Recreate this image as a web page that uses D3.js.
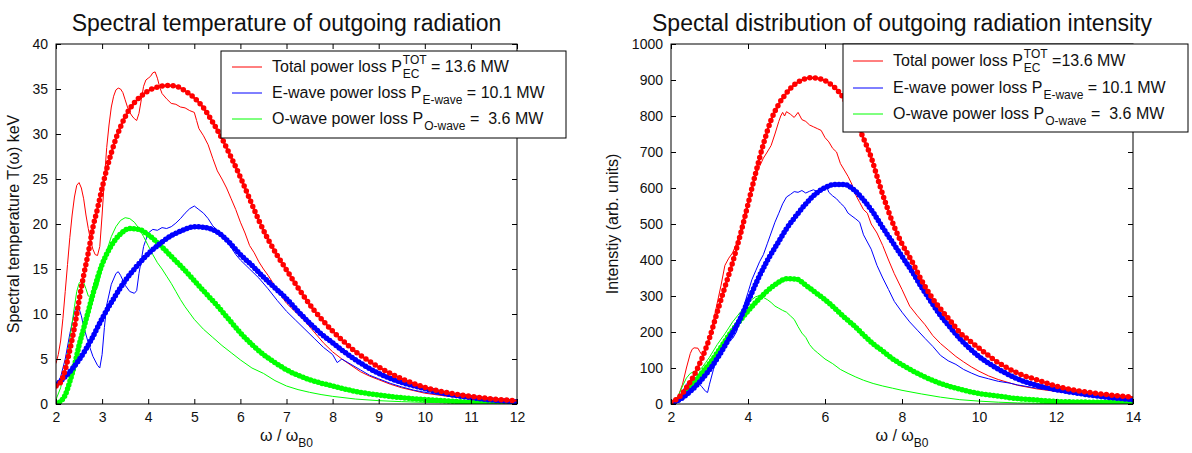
<!DOCTYPE html>
<html>
<head>
<meta charset="utf-8">
<script src="https://cdn.jsdelivr.net/npm/d3@7"></script>
<style>
  body { margin: 0; background: #fff; }
  svg { display: block; font-family: "Liberation Sans", Arial, sans-serif; }
</style>
</head>
<body>
<svg id="chart" width="1192" height="453"></svg>
<script>
// ---- data: [omega/omegaB0, value] ----

// left panel: spectral temperature (keV)
const leftTotalRaw = [[2.0,4.5],[2.05,5.5],[2.1,7.0],[2.15,9.5],[2.2,12.5],[2.25,15.5],[2.3,18.5],[2.35,21.0],[2.4,23.0],[2.45,24.3],[2.5,24.6],[2.55,24.0],[2.6,22.8],[2.65,21.0],[2.7,19.5],[2.75,18.2],[2.8,17.2],[2.85,16.6],[2.9,16.5],[2.95,17.5],[3.0,21.0],[3.05,25.0],[3.1,28.5],[3.15,31.0],[3.2,33.0],[3.25,34.2],[3.3,34.9],[3.35,35.1],[3.4,35.0],[3.45,34.6],[3.5,33.8],[3.55,33.0],[3.6,32.4],[3.65,32.0],[3.7,31.7],[3.75,31.5],[3.8,32.3],[3.85,33.8],[3.9,35.3],[3.95,36.0],[4.0,36.2],[4.05,36.4],[4.1,36.8],[4.15,36.9],[4.2,36.2],[4.25,35.2],[4.3,34.5],[4.4,33.9],[4.5,33.4],[4.6,33.3],[4.7,33.0],[4.8,32.9],[4.9,32.6],[5.0,32.4],[5.05,31.5],[5.1,30.6],[5.2,29.8],[5.3,28.8],[5.4,27.3],[5.5,25.9],[5.6,25.0],[5.7,24.0],[5.8,22.8],[5.9,21.6],[6.0,20.2],[6.1,19.0],[6.2,17.6],[6.3,16.8],[6.4,15.8],[6.5,15.0],[6.6,14.3],[6.7,13.5],[6.8,12.6],[6.9,11.9],[7.0,11.2],[7.2,10.2],[7.4,9.2],[7.6,8.0],[7.8,6.8],[8.0,5.8],[8.2,5.0],[8.4,4.3],[8.6,3.6],[8.8,3.1],[9.0,2.7],[9.25,2.2],[9.5,1.8],[9.75,1.5],[10.0,1.2],[10.5,0.85],[11.0,0.6],[11.5,0.42],[12.0,0.3]];
const leftERaw = [[2.0,2.0],[2.1,3.0],[2.2,5.0],[2.3,7.8],[2.4,10.2],[2.45,10.9],[2.5,10.6],[2.55,9.8],[2.6,8.6],[2.7,6.8],[2.8,5.3],[2.9,4.3],[2.95,4.0],[3.0,5.5],[3.05,8.5],[3.1,11.0],[3.2,13.3],[3.3,14.5],[3.35,14.7],[3.4,14.3],[3.5,13.2],[3.6,12.5],[3.7,12.3],[3.75,12.6],[3.8,14.5],[3.9,17.5],[4.0,19.0],[4.1,19.4],[4.2,19.3],[4.3,19.6],[4.4,19.5],[4.5,19.7],[4.6,20.1],[4.7,20.6],[4.8,21.2],[4.9,21.7],[5.0,22.0],[5.1,21.6],[5.2,21.2],[5.3,20.6],[5.4,19.8],[5.5,19.3],[5.6,18.7],[5.7,18.1],[5.8,17.4],[5.9,16.6],[6.0,16.0],[6.2,15.0],[6.4,14.0],[6.6,12.8],[6.8,11.5],[7.0,10.3],[7.2,9.3],[7.4,8.3],[7.6,7.3],[7.8,6.3],[8.0,5.5],[8.1,4.6],[8.2,5.0],[8.4,4.4],[8.6,3.8],[8.8,3.2],[9.0,2.8],[9.25,2.3],[9.5,1.9],[9.75,1.55],[10.0,1.3],[10.5,0.9],[11.0,0.6],[11.5,0.38],[12.0,0.22]];
const leftORaw = [[2.0,0.5],[2.1,1.8],[2.2,4.0],[2.3,7.2],[2.4,10.8],[2.45,12.5],[2.5,13.4],[2.55,13.7],[2.6,13.5],[2.65,12.8],[2.7,12.0],[2.75,11.8],[2.8,12.0],[2.9,13.0],[3.0,15.0],[3.1,17.0],[3.2,18.6],[3.3,19.7],[3.4,20.4],[3.5,20.7],[3.6,20.6],[3.7,20.2],[3.8,19.5],[3.9,18.6],[4.0,17.6],[4.1,16.6],[4.2,15.7],[4.3,15.0],[4.4,14.2],[4.5,13.4],[4.6,12.5],[4.7,11.6],[4.8,10.8],[4.9,10.1],[5.0,9.4],[5.2,8.3],[5.4,7.4],[5.6,6.5],[5.8,5.7],[6.0,4.9],[6.25,4.0],[6.5,3.4],[6.75,2.6],[7.0,2.0],[7.25,1.6],[7.5,1.3],[7.75,1.05],[8.0,0.85],[8.5,0.55],[9.0,0.37],[9.5,0.26],[10.0,0.18],[11.0,0.08],[12.0,0.04]];
const leftTotalFit = [[2.0,2.0],[2.1,2.4],[2.2,3.8],[2.3,6.0],[2.4,8.5],[2.5,11.5],[2.6,14.3],[2.7,16.8],[2.8,19.6],[2.9,21.7],[3.0,24.0],[3.1,26.1],[3.2,27.9],[3.3,29.5],[3.4,30.8],[3.5,31.9],[3.6,32.8],[3.8,34.0],[4.0,34.8],[4.2,35.2],[4.4,35.4],[4.6,35.3],[4.8,34.8],[5.0,34.0],[5.2,32.9],[5.4,31.3],[5.6,29.5],[5.8,27.4],[6.0,25.2],[6.2,22.8],[6.4,20.4],[6.6,18.3],[6.8,16.5],[7.0,14.9],[7.2,13.3],[7.4,11.8],[7.6,10.4],[7.8,9.2],[8.0,8.1],[8.25,6.9],[8.5,5.8],[8.75,4.9],[9.0,4.1],[9.25,3.4],[9.5,2.8],[9.75,2.3],[10.0,1.85],[10.5,1.25],[11.0,0.85],[11.5,0.55],[12.0,0.37]];
const leftEFit = [[2.0,2.1],[2.25,3.3],[2.5,4.9],[2.75,7.0],[3.0,9.5],[3.25,11.7],[3.5,13.7],[3.75,15.3],[4.0,16.7],[4.25,17.8],[4.5,18.7],[4.75,19.3],[5.0,19.7],[5.25,19.6],[5.5,19.1],[5.75,18.0],[6.0,16.6],[6.25,15.4],[6.5,14.1],[6.75,12.9],[7.0,11.7],[7.25,10.3],[7.5,9.0],[7.75,7.8],[8.0,6.8],[8.25,5.8],[8.5,4.9],[8.75,4.1],[9.0,3.4],[9.5,2.4],[10.0,1.7],[10.5,1.1],[11.0,0.7],[11.5,0.42],[12.0,0.25]];
const leftOFit = [[2.0,0.0],[2.1,0.3],[2.2,1.0],[2.3,2.5],[2.4,4.3],[2.5,6.5],[2.6,8.4],[2.7,10.3],[2.8,12.2],[2.9,14.0],[3.0,15.5],[3.2,17.6],[3.4,18.9],[3.6,19.5],[3.8,19.4],[4.0,18.8],[4.25,17.7],[4.5,16.4],[4.75,15.1],[5.0,13.7],[5.25,12.3],[5.5,10.9],[5.75,9.4],[6.0,7.9],[6.25,6.6],[6.5,5.5],[6.75,4.6],[7.0,3.8],[7.5,2.7],[8.0,2.0],[8.5,1.4],[9.0,1.0],[9.5,0.7],[10.0,0.5],[11.0,0.2],[12.0,0.07]];

// right panel: intensity (arb. units)
const rightTotalRaw = [[2.0,7],[2.1,12],[2.2,25],[2.3,55],[2.4,100],[2.5,140],[2.55,152],[2.6,156],[2.7,155],[2.75,145],[2.8,137],[2.85,140],[2.9,150],[3.0,185],[3.1,230],[3.2,280],[3.3,330],[3.4,385],[3.5,405],[3.6,420],[3.7,445],[3.8,480],[3.9,525],[4.0,560],[4.1,598],[4.2,635],[4.3,660],[4.4,683],[4.5,700],[4.6,718],[4.7,750],[4.8,785],[4.85,800],[4.9,810],[4.95,800],[5.0,812],[5.1,805],[5.2,796],[5.3,810],[5.4,790],[5.5,785],[5.6,775],[5.7,770],[5.8,765],[5.9,760],[6.0,740],[6.1,728],[6.2,710],[6.3,700],[6.4,668],[6.5,650],[6.6,632],[6.7,610],[6.8,580],[6.9,560],[7.0,540],[7.1,530],[7.2,500],[7.35,475],[7.5,440],[7.65,400],[7.8,362],[8.0,318],[8.2,272],[8.4,245],[8.6,220],[8.8,190],[9.0,168],[9.2,150],[9.4,132],[9.6,117],[9.8,103],[10.0,91],[10.25,78],[10.5,68],[11.0,52],[11.5,42],[12.0,35],[12.5,28],[13.0,23],[13.5,19],[14.0,16]];
const rightERaw = [[2.0,3],[2.1,8],[2.2,18],[2.3,35],[2.4,55],[2.5,66],[2.6,68],[2.7,60],[2.8,48],[2.9,35],[2.95,32],[3.0,55],[3.1,95],[3.2,135],[3.3,165],[3.4,172],[3.5,175],[3.6,182],[3.7,200],[3.8,235],[3.9,275],[4.0,310],[4.1,345],[4.2,370],[4.3,395],[4.4,415],[4.5,445],[4.6,475],[4.7,505],[4.8,530],[4.9,556],[5.0,575],[5.1,582],[5.2,590],[5.3,588],[5.4,593],[5.5,586],[5.6,591],[5.7,595],[5.8,590],[5.9,594],[6.0,596],[6.05,602],[6.1,588],[6.2,578],[6.3,570],[6.4,558],[6.5,548],[6.6,530],[6.7,522],[6.8,514],[6.9,505],[7.0,470],[7.1,450],[7.2,430],[7.35,385],[7.5,350],[7.65,318],[7.8,285],[8.0,255],[8.2,228],[8.4,205],[8.6,182],[8.8,160],[9.0,135],[9.2,120],[9.4,110],[9.6,96],[9.8,86],[10.0,77],[10.25,70],[10.5,63],[10.8,58],[11.0,53],[11.5,44],[12.0,36],[12.5,28],[13.0,21],[13.5,16],[14.0,12]];
const rightORaw = [[2.0,3],[2.1,10],[2.2,25],[2.3,50],[2.4,72],[2.5,85],[2.6,90],[2.7,92],[2.8,100],[2.9,115],[3.0,130],[3.2,165],[3.4,195],[3.6,228],[3.8,255],[4.0,280],[4.1,290],[4.2,298],[4.3,301],[4.4,296],[4.5,290],[4.6,282],[4.7,272],[4.8,266],[4.9,260],[5.0,255],[5.1,245],[5.2,235],[5.3,215],[5.4,197],[5.5,185],[5.6,165],[5.7,152],[5.8,143],[6.0,125],[6.2,112],[6.4,96],[6.6,85],[6.8,75],[7.0,66],[7.25,57],[7.5,50],[7.75,44],[8.0,38],[8.5,28],[9.0,19],[9.5,12],[10.0,8],[10.5,5],[11.0,3],[12.0,1],[13.0,0.5],[14.0,0.3]];
const rightTotalFit = [[2.0,5],[2.2,18],[2.4,45],[2.6,80],[2.8,126],[3.0,183],[3.2,255],[3.4,325],[3.6,393],[3.8,470],[4.0,555],[4.2,642],[4.4,722],[4.6,789],[4.8,833],[5.0,864],[5.2,887],[5.4,900],[5.6,906],[5.8,905],[6.0,898],[6.2,884],[6.4,862],[6.6,830],[6.8,785],[7.0,738],[7.2,685],[7.4,615],[7.6,550],[7.8,492],[8.0,445],[8.25,398],[8.5,345],[8.75,300],[9.0,264],[9.25,232],[9.5,199],[9.75,176],[10.0,155],[10.5,115],[11.0,86],[11.5,67],[12.0,50],[12.5,38],[13.0,30],[13.5,24],[14.0,19]];
const rightEFit = [[2.0,3],[2.25,14],[2.5,35],[2.75,62],[3.0,95],[3.25,135],[3.5,180],[3.75,227],[4.0,285],[4.25,345],[4.5,398],[4.75,443],[5.0,487],[5.25,523],[5.5,556],[5.75,583],[6.0,601],[6.25,610],[6.5,610],[6.75,595],[7.0,567],[7.25,532],[7.5,490],[7.75,450],[8.0,410],[8.25,370],[8.5,326],[8.75,285],[9.0,246],[9.25,213],[9.5,182],[9.75,155],[10.0,132],[10.5,97],[11.0,70],[11.5,52],[12.0,40],[12.5,31],[13.0,23],[13.5,17],[14.0,12]];
const rightOFit = [[2.0,0],[2.25,18],[2.5,46],[2.75,80],[3.0,112],[3.25,150],[3.5,190],[3.75,226],[4.0,258],[4.25,288],[4.5,314],[4.75,335],[5.0,348],[5.25,347],[5.5,330],[5.75,310],[6.0,290],[6.25,266],[6.5,241],[6.75,218],[7.0,192],[7.25,167],[7.5,147],[7.75,126],[8.0,109],[8.5,80],[9.0,57],[9.5,41],[10.0,29],[10.5,22],[11.0,15],[11.5,11],[12.0,7],[13.0,5],[14.0,4]];

// ticks
const leftXTicks = [2, 3, 4, 5, 6, 7, 8, 9, 10, 11, 12];
const leftYTicks = [0, 5, 10, 15, 20, 25, 30, 35, 40];
const rightXTicks = [2, 4, 6, 8, 10, 12, 14];
const rightYTicks = [0, 100, 200, 300, 400, 500, 600, 700, 800, 900, 1000];

// legend texts: [main, sub, sup, tail]
const leftLegend = [
  ["Total power loss P", "EC", "TOT", " = 13.6 MW"],
  ["E-wave power loss P", "E-wave", "", " = 10.1 MW"],
  ["O-wave power loss P", "O-wave", "", " =  3.6 MW"]
];
const rightLegend = [
  ["Total power loss P", "EC", "TOT", " =13.6 MW"],
  ["E-wave power loss P", "E-wave", "", " = 10.1 MW"],
  ["O-wave power loss P", "O-wave", "", " =  3.6 MW"]
];
const seriesColors = ["#ff0000", "#0000ff", "#00ff00"];

const svg = d3.select("#chart");

function drawPanel(p) {
  const g = svg.append("g");
  const x = d3.scaleLinear().domain(p.xDomain).range([p.left, p.right]);
  const y = d3.scaleLinear().domain(p.yDomain).range([p.bottom, p.top]);

  const clipId = "clip" + p.id;
  svg.append("clipPath").attr("id", clipId)
    .append("rect")
    .attr("x", p.left).attr("y", p.top)
    .attr("width", p.right - p.left).attr("height", p.bottom - p.top);

  const plot = g.append("g").attr("clip-path", `url(#${clipId})`);

  const thin = d3.line().x(d => x(d[0])).y(d => y(d[1]));
  const smooth = d3.line().x(d => x(d[0])).y(d => y(d[1])).curve(d3.curveMonotoneX);

  // thin measured curves
  p.raw.forEach((s, i) => {
    plot.append("path").datum(s)
      .attr("d", thin)
      .attr("fill", "none")
      .attr("stroke", seriesColors[i])
      .attr("stroke-width", 1);
  });

  // thick fitted curves (dense markers look)
  [2, 1, 0].forEach(i => {
    const s = p.fit[i];
    plot.append("path").datum(s)
      .attr("d", smooth)
      .attr("fill", "none")
      .attr("stroke", seriesColors[i])
      .attr("stroke-width", i === 0 ? 2 : 3.5);
    plot.append("path").datum(s)
      .attr("d", smooth)
      .attr("fill", "none")
      .attr("stroke", seriesColors[i])
      .attr("stroke-width", 5.5)
      .attr("stroke-linecap", "round")
      .attr("stroke-dasharray", i === 0 ? "0 5.5" : "0 4");
  });

  // axes, MATLAB style box with inward ticks
  const fmt = d3.format("d");
  const axBottom = g.append("g")
    .attr("transform", `translate(0,${p.bottom})`)
    .call(d3.axisBottom(x).tickValues(p.xTicks).tickFormat(fmt).tickSizeInner(-5).tickSizeOuter(0).tickPadding(8));
  const axLeft = g.append("g")
    .attr("transform", `translate(${p.left},0)`)
    .call(d3.axisLeft(y).tickValues(p.yTicks).tickFormat(fmt).tickSizeInner(-5).tickSizeOuter(0).tickPadding(8));
  g.append("g")
    .attr("transform", `translate(0,${p.top})`)
    .call(d3.axisTop(x).tickValues(p.xTicks).tickSizeInner(-5).tickSizeOuter(0).tickFormat(""));
  g.append("g")
    .attr("transform", `translate(${p.right},0)`)
    .call(d3.axisRight(y).tickValues(p.yTicks).tickSizeInner(-5).tickSizeOuter(0).tickFormat(""));
  g.selectAll(".domain").remove();
  g.selectAll(".tick line").attr("stroke", "#000");
  [axBottom, axLeft].forEach(a => a.selectAll("text")
    .attr("font-size", 14)
    .attr("font-family", "Liberation Sans, Arial, sans-serif")
    .attr("fill", "#111"));

  g.append("rect")
    .attr("x", p.left).attr("y", p.top)
    .attr("width", p.right - p.left).attr("height", p.bottom - p.top)
    .attr("fill", "none").attr("stroke", "#000").attr("stroke-width", 1);

  // title
  g.append("text")
    .attr("x", (p.left + p.right) / 2).attr("y", 31)
    .attr("text-anchor", "middle")
    .attr("font-size", 23)
    .attr("fill", "#111")
    .text(p.title);

  // y label
  g.append("text")
    .attr("transform", `translate(${p.yLabelX},${(p.top + p.bottom) / 2}) rotate(-90)`)
    .attr("text-anchor", "middle")
    .attr("font-size", 16)
    .attr("fill", "#111")
    .text(p.yLabel);

  // x label: omega / omega_B0
  const xl = g.append("text")
    .attr("x", (p.left + p.right) / 2).attr("y", 441)
    .attr("text-anchor", "middle")
    .attr("font-size", 16)
    .attr("fill", "#111");
  xl.append("tspan").text("\u03c9 / \u03c9");
  xl.append("tspan").attr("dy", 6).attr("font-size", 12).text("B0");

  // legend
  const L = p.legend;
  const lg = g.append("g");
  lg.append("rect")
    .attr("x", L.x).attr("y", L.y).attr("width", L.w).attr("height", L.h)
    .attr("fill", "#fff").attr("stroke", "#000").attr("stroke-width", 1);
  p.legendText.forEach((row, i) => {
    const cy = L.rows[i];
    lg.append("line")
      .attr("x1", L.lineX).attr("x2", L.lineX + 30)
      .attr("y1", cy).attr("y2", cy)
      .attr("stroke", seriesColors[i]).attr("stroke-width", 1);
    let cx = L.lineX + 40;
    const base = cy + 5;
    const main = lg.append("text").attr("x", cx).attr("y", base)
      .attr("font-size", 16).attr("fill", "#111")
      .style("white-space", "pre").text(row[0]);
    cx += main.node().getComputedTextLength() + 1;
    const sub = lg.append("text").attr("x", cx).attr("y", base + 6)
      .attr("font-size", 12).attr("fill", "#111").text(row[1]);
    let w = sub.node().getComputedTextLength();
    if (row[2]) {
      const sup = lg.append("text").attr("x", cx).attr("y", base - 8)
        .attr("font-size", 12).attr("fill", "#111").text(row[2]);
      w = Math.max(w, sup.node().getComputedTextLength());
    }
    cx += w;
    lg.append("text").attr("x", cx).attr("y", base)
      .attr("font-size", 16).attr("fill", "#111")
      .style("white-space", "pre").text(row[3]);
  });
}

drawPanel({
  id: "L",
  left: 56, right: 517, top: 44, bottom: 404,
  xDomain: [2, 12], yDomain: [0, 40],
  xTicks: leftXTicks, yTicks: leftYTicks,
  title: "Spectral temperature of outgoing radiation",
  yLabel: "Spectral temperature T(\u03c9) keV", yLabelX: 19,
  raw: [leftTotalRaw, leftERaw, leftORaw],
  fit: [leftTotalFit, leftEFit, leftOFit],
  legendText: leftLegend,
  legend: { x: 221, y: 51, w: 345, h: 87, lineX: 232, rows: [67, 93, 119] }
});

drawPanel({
  id: "R",
  left: 671, right: 1133, top: 44, bottom: 404,
  xDomain: [2, 14], yDomain: [0, 1000],
  xTicks: rightXTicks, yTicks: rightYTicks,
  title: "Spectal distribution of outgoing radiation intensity",
  yLabel: "Intenstiy (arb. units)", yLabelX: 618,
  raw: [rightTotalRaw, rightERaw, rightORaw],
  fit: [rightTotalFit, rightEFit, rightOFit],
  legendText: rightLegend,
  legend: { x: 843, y: 44, w: 345, h: 88, lineX: 853, rows: [61, 88, 114] }
});
</script>
</body>
</html>
